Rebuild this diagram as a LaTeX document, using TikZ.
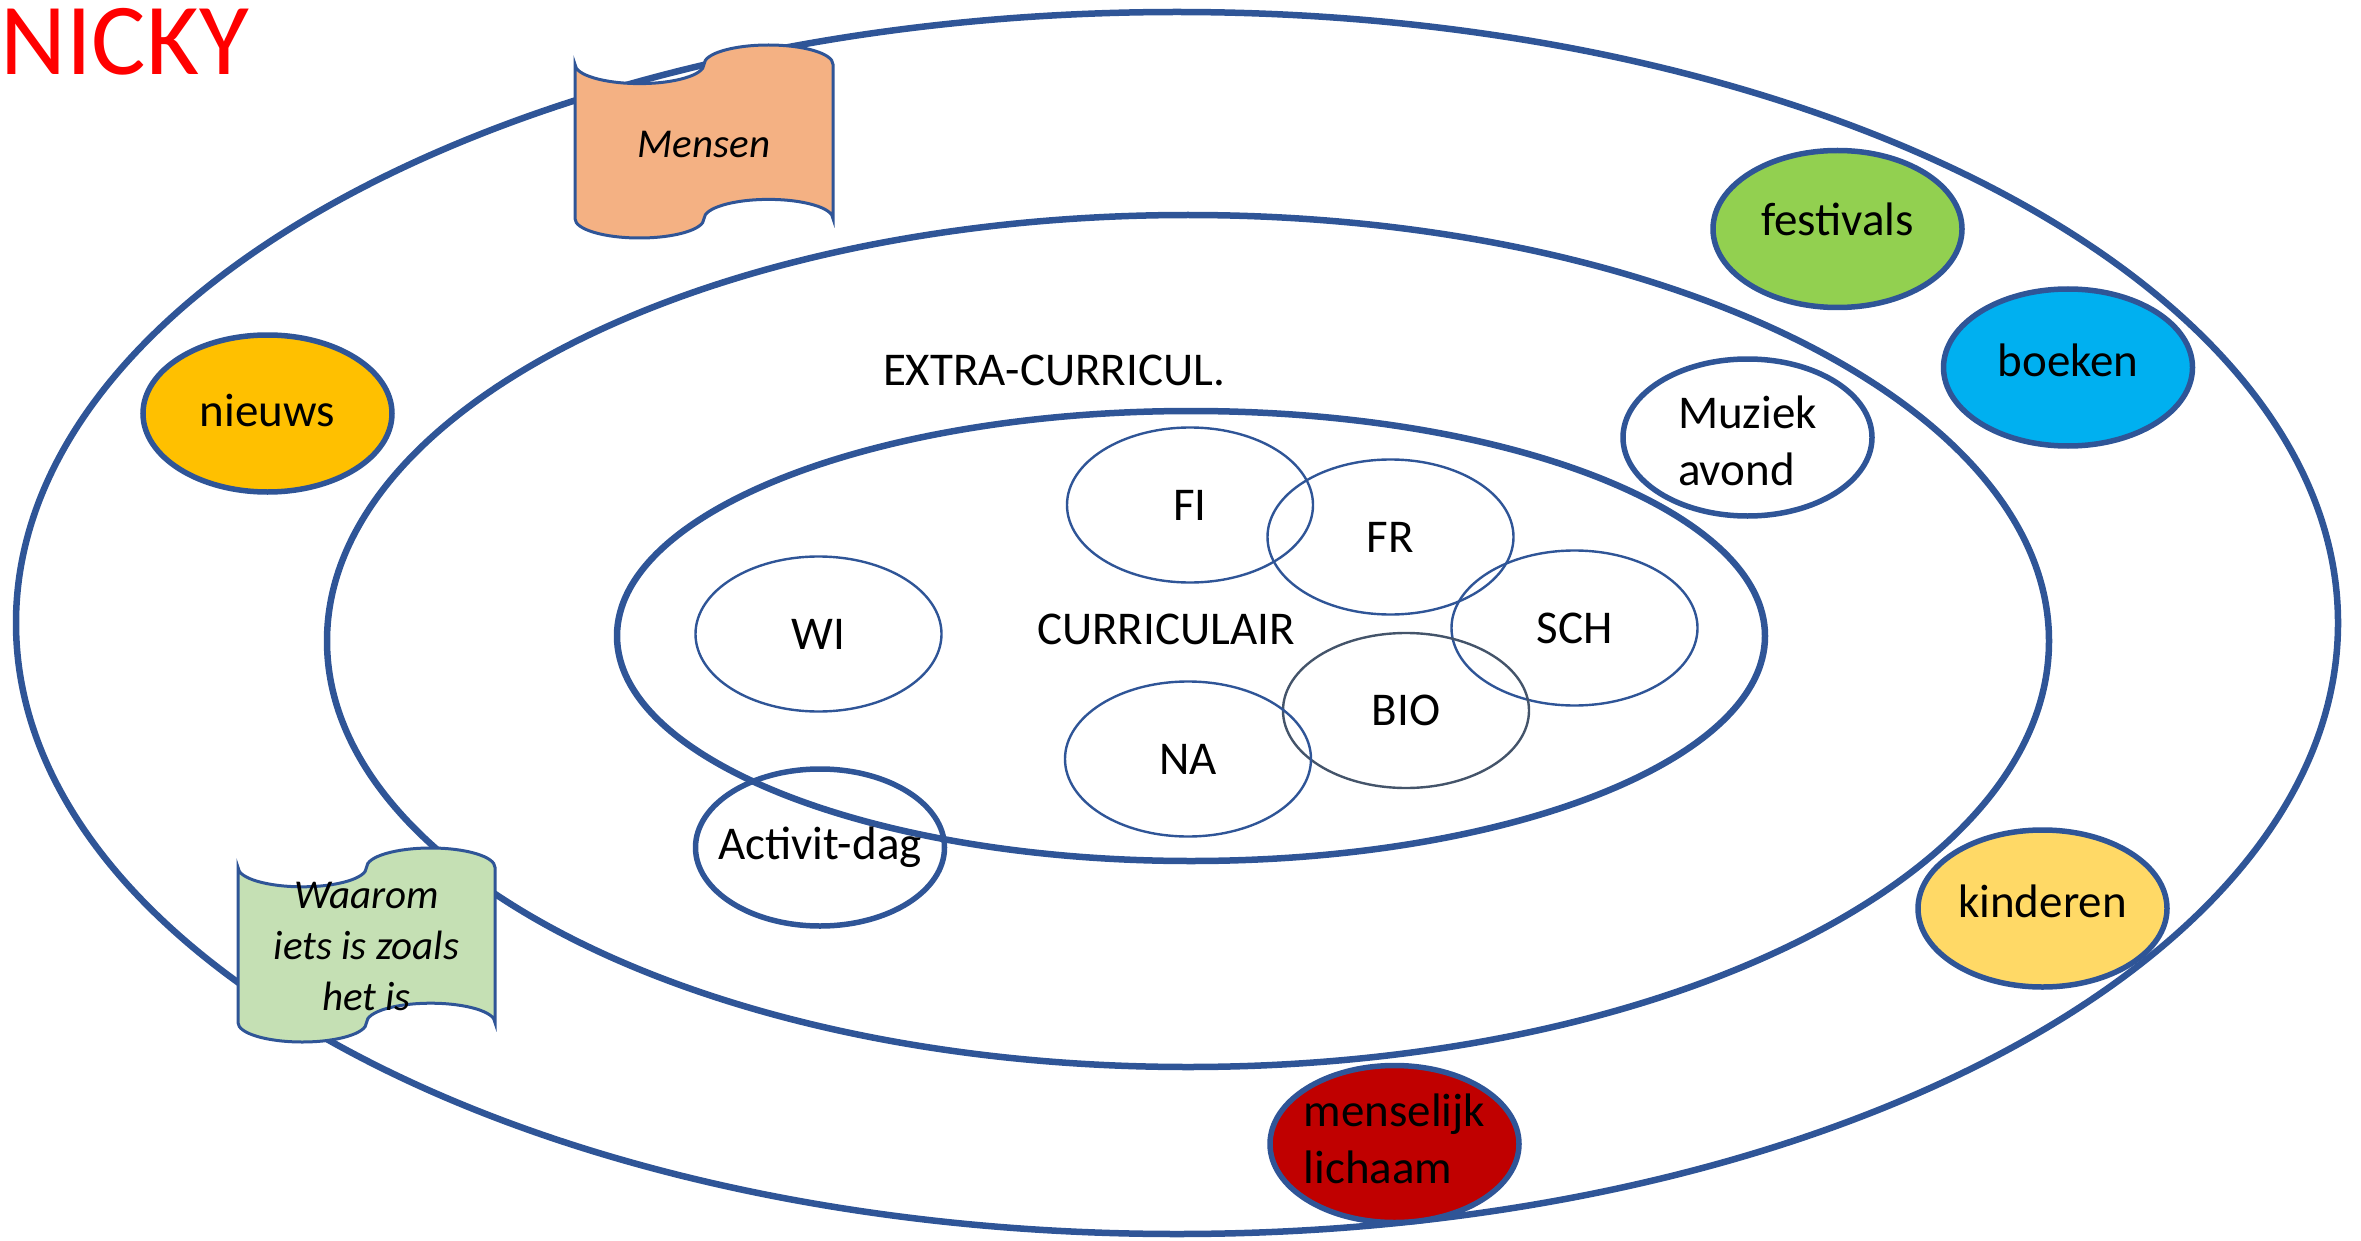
\documentclass[tikz,border=0pt]{standalone}
\usepackage{fontspec}
\setmainfont{Carlito}
\usetikzlibrary{shapes.geometric}
\definecolor{edge}{HTML}{2F5597}
\definecolor{bioedge}{HTML}{44546A}
\definecolor{fgreen}{HTML}{92D050}
\definecolor{bblue}{HTML}{00B0F0}
\definecolor{nyellow}{HTML}{FFC000}
\definecolor{kyellow}{HTML}{FFD966}
\definecolor{mred}{HTML}{C00000}
\definecolor{peach}{HTML}{F4B183}
\definecolor{lgreen}{HTML}{C5E0B4}
\definecolor{nickred}{HTML}{FF0000}
\begin{document}
\begin{tikzpicture}[x=1pt,y=-1pt,
  lbl/.style={font=\fontsize{47}{57}\selectfont},
  ring/.style={draw=edge, line width=6.5pt, ellipse, inner sep=0pt},
  topic/.style={draw=edge, line width=5.5pt, ellipse, inner ysep=0pt, inner xsep=-40pt,
    minimum width=249pt, minimum height=157pt, lbl, text height=32pt},
  subj/.style={draw=edge, line width=2.4pt, ellipse, inner sep=0pt,
    minimum width=246pt, minimum height=155pt, lbl},
  scroll/.style={draw=edge, line width=3pt},
  scrolltext/.style={font=\fontsize{41}{51}\selectfont\itshape, align=center, inner sep=0pt},
  plain/.style={lbl, inner sep=0pt}
]
\useasboundingbox (0,0) rectangle (2361,1241);

% nested rings
\node[ring, minimum width=2322pt, minimum height=1222pt] (outer) at (1177,623) {};
\node[ring, minimum width=1722pt, minimum height=852pt] (middle) at (1188,641) {};
\node[ring, minimum width=1148pt, minimum height=450pt] (inner) at (1191,636) {};

% ring labels
\node[plain] (extra) at (1054,370) {EXTRA-CURRICUL.};
\node[plain] (curr) at (1166,629) {CURRICULAIR};

% subjects
\node[subj] (fi) at (1190,505) {FI};
\node[subj] (fr) at (1390.5,537) {FR};
\node[subj] (sch) at (1574.5,628) {SCH};
\node[subj, draw=bioedge] (bio) at (1406,710.5) {BIO};
\node[subj] (na) at (1188,759) {NA};
\node[subj] (wi) at (818.5,634) {WI};

% topics
\node[topic, fill=fgreen, text depth=18pt] (fest) at (1837.5,229) {festivals};
\node[topic, fill=bblue, text depth=14pt] (boek) at (2068,367.5) {boeken};
\node[topic, fill=nyellow, text depth=7pt] (nieuws) at (267.5,413.5) {nieuws};
\node[topic, fill=kyellow, text depth=15pt] (kind) at (2042.5,908.5) {kinderen};
\node[topic, fill=mred, align=left, text height=89pt, text depth=11pt] (mens) at (1394.5,1144) {menselijk\\lichaam};
\node[topic, fill=white, align=left, text height=95pt, text depth=0pt] (muz) at (1747.5,437.5) {Muziek\\avond};
\node[topic, text depth=9pt] (act) at (820,847.5) {Activit-dag};

% scrolls
\filldraw[scroll, fill=peach] (575,64.3)
  arc[start angle=180, end angle=0, x radius=64.5, y radius=19.3]
  arc[start angle=180, end angle=360, x radius=64.5, y radius=19.3]
  -- (833,218.7)
  arc[start angle=0, end angle=-180, x radius=64.5, y radius=19.3]
  arc[start angle=0, end angle=180, x radius=64.5, y radius=19.3]
  -- cycle;
\node[scrolltext] (mensen) at (704,144) {Mensen};

\filldraw[scroll, fill=lgreen] (238,867.4)
  arc[start angle=180, end angle=0, x radius=64.25, y radius=19.4]
  arc[start angle=180, end angle=360, x radius=64.25, y radius=19.4]
  -- (495,1022.6)
  arc[start angle=0, end angle=-180, x radius=64.25, y radius=19.4]
  arc[start angle=0, end angle=180, x radius=64.25, y radius=19.4]
  -- cycle;
\node[scrolltext] (waarom) at (366.5,946) {Waarom\\iets is zoals\\het is};

% title
\node[inner sep=0pt, anchor=base west, text=nickred, font=\fontsize{102}{120}\selectfont] (nicky) at (0,75) {NICKY};
\end{tikzpicture}
\end{document}
